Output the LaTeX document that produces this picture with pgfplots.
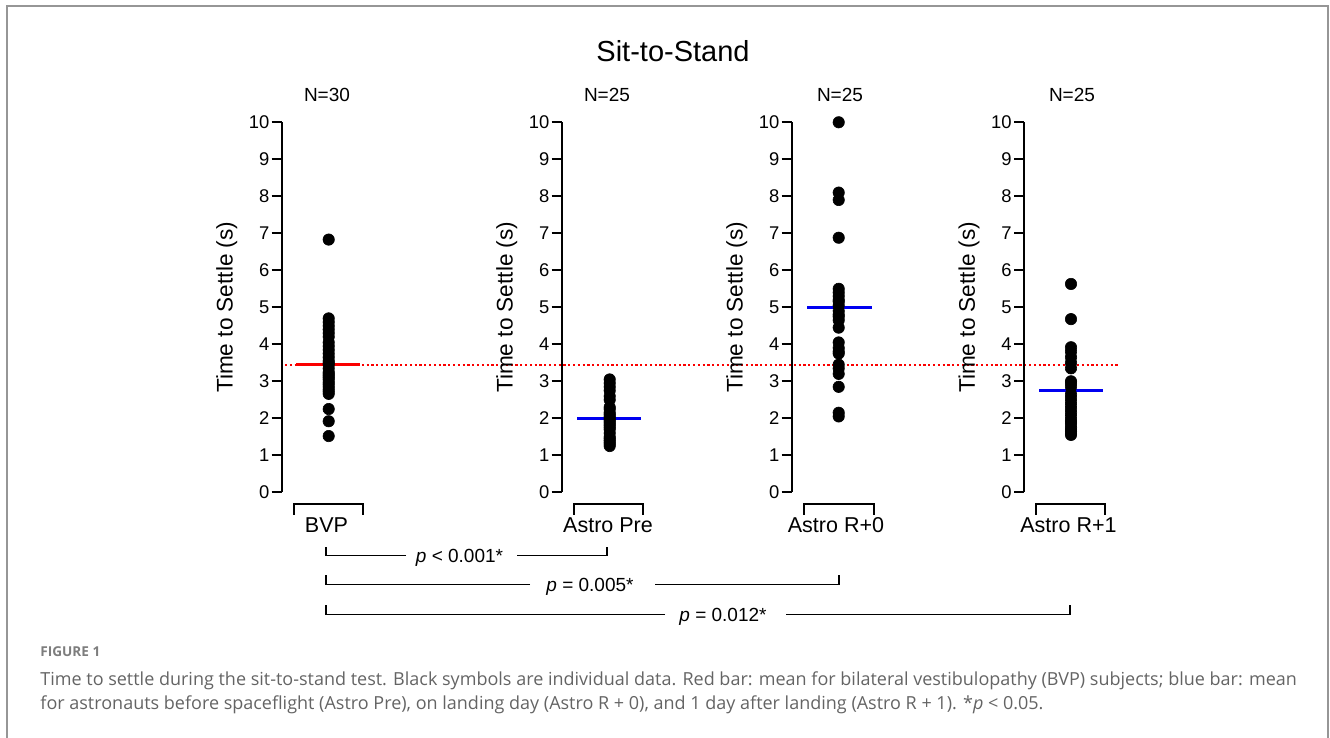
\documentclass[border=0pt]{standalone}
\usepackage{fontspec}
\setmainfont{Liberation Sans}
\newfontfamily\capfont{Open Sans}
\usepackage{pgfplots}
\pgfplotsset{compat=1.18}

\definecolor{meanblue}{RGB}{0,0,240}
\definecolor{meanred}{RGB}{250,0,0}
\definecolor{capgray}{RGB}{100,100,100}
\definecolor{figgray}{RGB}{125,125,125}
\definecolor{framegray}{RGB}{150,150,150}

% one panel = one axis; x runs in pixels from the y axis line
\pgfplotsset{
  panel/.style={
    scale only axis, width=50pt, height=185pt,
    xmin=0, xmax=100, ymin=0, ymax=10,
    axis x line=none, axis y line=left,
    axis line style={-, line width=0.8pt},
    ytick={0,1,...,10}, tick align=outside, major tick length=5pt,
    ytick style={line width=0.8pt, black},
    /pgf/number format/assume math mode=true,
    yticklabel style={font=\fontsize{9.2}{10}\selectfont, inner sep=1pt},
    ylabel={Time to Settle (s)},
    ylabel style={font=\fontsize{11.3}{13}\selectfont, at={(axis description cs:-0.55,0.5)}, anchor=center},
    clip=false,
  },
  dots/.style={only marks, mark=*, mark size=2.85pt,
    mark options={fill=black, draw=black, line width=0.3pt}},
}

\begin{document}
\begin{tikzpicture}
% annotation layer in pixel units (origin top left)
\begin{scope}[x=0.5pt, y=-0.5pt, yshift=369pt]
\useasboundingbox (0,0) rectangle (1330,738);
\draw[framegray, line width=1.1pt] (7,745) -- (7,6) -- (1328,6) -- (1328,745);

\node[anchor=base, font=\fontsize{14.5}{16}\selectfont] at (673,61.7) {Sit-to-Stand};

\foreach \cx/\lab in {327/N=30, 607/N=25, 840/N=25, 1072/N=25}
  \node[anchor=base, font=\fontsize{9.5}{11}\selectfont] at (\cx,102) {\lab};

\foreach \a/\b in {294/363, 574/643, 804/874, 1036/1105}
  \draw[line width=0.8pt] (\a,515) -- (\a,504) -- (\b,504) -- (\b,515);
\node[anchor=base, font=\fontsize{10.75}{12}\selectfont] at (326.5,533) {BVP};
\node[anchor=base, font=\fontsize{10.75}{12}\selectfont] at (608,533) {Astro Pre};
\node[anchor=base, font=\fontsize{10.75}{12}\selectfont] at (836,533) {Astro R+0};
\node[anchor=base, font=\fontsize{10.75}{12}\selectfont] at (1068.5,533) {Astro R+1};

% significance brackets
\draw[line width=0.75pt] (406,555.5) -- (326,555.5) -- (326,547.5);
\draw[line width=0.75pt] (517,555.5) -- (607,555.5) -- (607,547.5);
\node[anchor=base, font=\fontsize{9.5}{11}\selectfont] at (459.5,562.5) {\textit{p} < 0.001*};
\draw[line width=0.75pt] (530,584.5) -- (326,584.5) -- (326,575.5);
\draw[line width=0.75pt] (655,584.5) -- (839,584.5) -- (839,575.5);
\node[anchor=base, font=\fontsize{9.5}{11}\selectfont] at (590,591.5) {\textit{p} = 0.005*};
\draw[line width=0.75pt] (665,614.5) -- (326,614.5) -- (326,605.5);
\draw[line width=0.75pt] (786,614.5) -- (1070,614.5) -- (1070,605.5);
\node[anchor=base, font=\fontsize{9.5}{11}\selectfont] at (723,621.5) {\textit{p} = 0.012*};

% caption
\node[anchor=base west, inner sep=0pt, text=figgray, font=\capfont\bfseries\fontsize{6.8}{8}\selectfont] at (40,657) {FIGURE 1};
\node[anchor=base west, inner sep=0pt, text=capgray, font=\capfont\fontsize{9}{10}\selectfont] at (40,686)
  {Time to settle during the sit-to-stand test. Black symbols are individual data. Red bar: mean for bilateral vestibulopathy (BVP) subjects; blue bar: mean};
\node[anchor=base west, inner sep=0pt, text=capgray, font=\capfont\fontsize{9}{10}\selectfont] at (40,710)
  {for astronauts before spaceflight (Astro Pre), on landing day (Astro R + 0), and 1 day after landing (Astro R + 1). *\textit{p} < 0.05.};
\end{scope}

% BVP
\begin{axis}[panel, at={(140.85pt,122.85pt)}, anchor=south west]
\addplot[meanred, line width=0.9pt, dash pattern=on 1.1pt off 1.3pt] coordinates {(3.3,3.45) (836.3,3.45)};
\addplot[dots] coordinates {
(47,6.83) (47,4.70) (47,4.60) (47,4.50) (47,4.40) (47,4.30) (47,4.20) (47,4.05)
(47,3.95) (47,3.85) (47,3.75) (47,3.65) (47,3.55) (47,3.50) (47,3.45) (47,3.35)
(47,3.25) (47,3.20) (47,3.15) (47,3.10) (47,3.05) (47,2.98) (47,2.92) (47,2.85)
(47,2.78) (47,2.72) (47,2.66) (47,2.25) (47,1.92) (47,1.52)};
\addplot[meanred, line width=1.8pt] coordinates {(14.5,3.45) (78.5,3.45)};
\end{axis}

% Astro Pre
\begin{axis}[panel, at={(280.85pt,122.85pt)}, anchor=south west]
\addplot[dots] coordinates {
(48,3.05) (48,2.95) (48,2.85) (48,2.75) (48,2.60) (48,2.50) (48,2.30) (48,2.25)
(48,2.15) (48,2.10) (48,2.05) (48,2.00) (48,1.95) (48,1.90) (48,1.85) (48,1.80)
(48,1.75) (48,1.70) (48,1.60) (48,1.50) (48,1.45) (48,1.40) (48,1.35) (48,1.30)
(48,1.25)};
\addplot[meanblue, line width=1.7pt] coordinates {(15.3,2.0) (79.3,2.0)};
\end{axis}

% Astro R+0
\begin{axis}[panel, at={(395.85pt,122.85pt)}, anchor=south west]
\addplot[dots] coordinates {
(47,10.0) (47,8.10) (47,7.90) (47,6.88) (47,5.50) (47,5.40) (47,5.30) (47,5.20)
(47,5.15) (47,5.05) (47,4.90) (47,4.80) (47,4.75) (47,4.65) (47,4.45) (47,4.05)
(47,3.90) (47,3.80) (47,3.75) (47,3.45) (47,3.35) (47,3.20) (47,2.85) (47,2.15)
(47,2.05)};
\addplot[meanblue, line width=1.7pt] coordinates {(15.3,5.0) (80.3,5.0)};
\end{axis}

% Astro R+1
\begin{axis}[panel, at={(512pt,122.85pt)}, anchor=south west]
\addplot[dots] coordinates {
(47,5.63) (47,4.68) (47,3.92) (47,3.80) (47,3.65) (47,3.50) (47,3.35) (47,3.00)
(47,2.95) (47,2.85) (47,2.65) (47,2.55) (47,2.45) (47,2.35) (47,2.25) (47,2.15)
(47,2.05) (47,1.95) (47,1.90) (47,1.85) (47,1.75) (47,1.70) (47,1.65) (47,1.60)
(47,1.55)};
\addplot[meanblue, line width=1.7pt] coordinates {(15,2.75) (79,2.75)};
\end{axis}
\end{tikzpicture}
\end{document}
